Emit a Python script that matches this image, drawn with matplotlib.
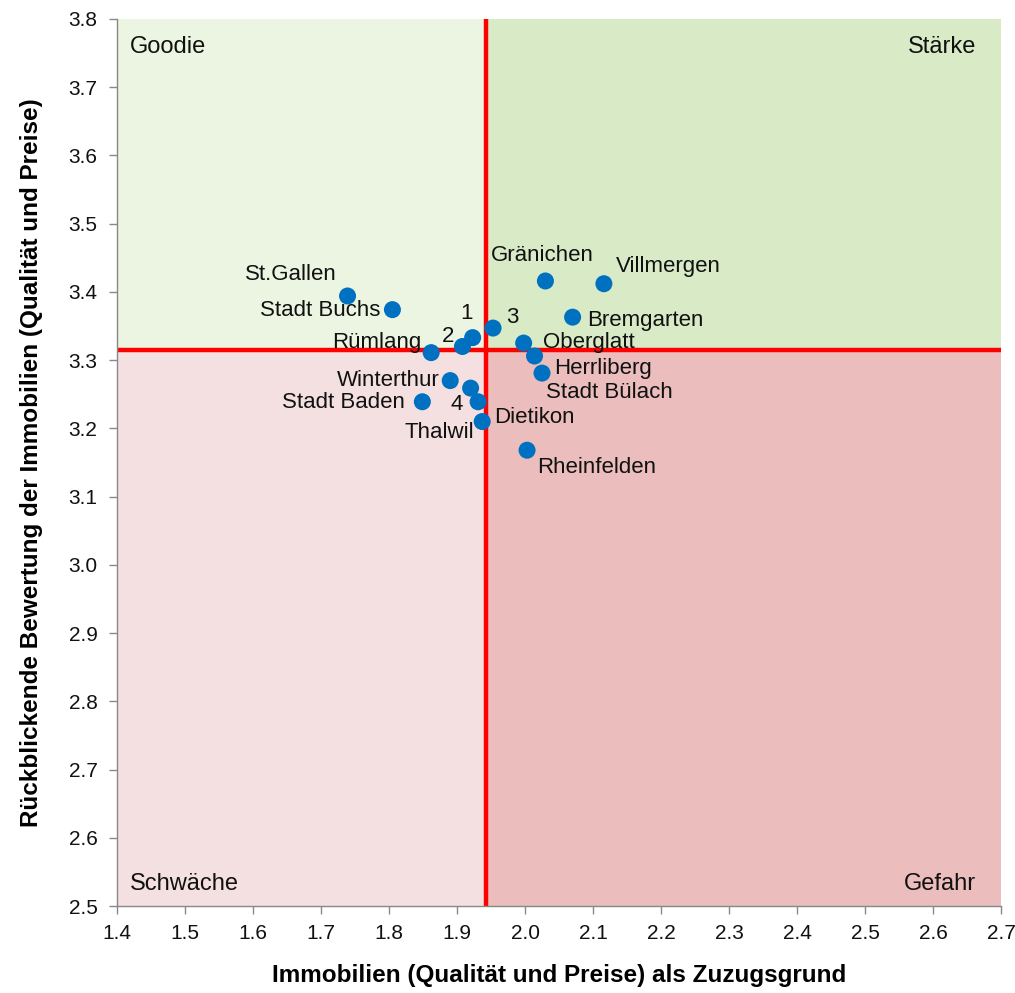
"""Quadrant scatter: real estate as a reason to move vs. retrospective rating."""

import matplotlib.pyplot as plt
from matplotlib.patches import Rectangle

plt.rcParams["font.family"] = ["Liberation Sans", "DejaVu Sans"]

# Municipalities and their scores
places = [
    "St.Gallen", "Stadt Buchs", "Rümlang", "2", "1", "3", "Gränichen",
    "Villmergen", "Bremgarten", "Oberglatt", "Herrliberg", "Stadt Bülach",
    "Winterthur", "Stadt Baden", "Dietikon", "4", "Thalwil", "Rheinfelden",
]
zuzug = [
    1.739, 1.805, 1.862, 1.908, 1.923, 1.953, 2.030,
    2.116, 2.070, 1.998, 2.014, 2.025,
    1.890, 1.849, 1.920, 1.931, 1.937, 2.003,
]
bewertung = [
    3.394, 3.374, 3.311, 3.320, 3.333, 3.347, 3.416,
    3.412, 3.363, 3.325, 3.306, 3.281,
    3.270, 3.239, 3.259, 3.239, 3.210, 3.168,
]

# label offsets in pixels (dx, dy) and horizontal alignment
label_pos = {
    "St.Gallen": (-57, 21, "center"),
    "Stadt Buchs": (-12, -1, "right"),
    "Rümlang": (-10, 10, "right"),
    "2": (-14, 10, "center"),
    "1": (-6, 24, "center"),
    "3": (19, 11, "center"),
    "Gränichen": (-3, 25, "center"),
    "Villmergen": (12, 17, "left"),
    "Bremgarten": (15, -3, "left"),
    "Oberglatt": (19, 1, "left"),
    "Herrliberg": (20, -12, "left"),
    "Stadt Bülach": (4, -19, "left"),
    "Winterthur": (-11, 0, "right"),
    "Stadt Baden": (-17, -1, "right"),
    "Dietikon": (24, -29, "left"),
    "4": (-21, -3, "center"),
    "Thalwil": (-8, -11, "right"),
    "Rheinfelden": (10, -17, "left"),
}

x_split = 1.943
y_split = 3.315
x_min, x_max = 1.4, 2.7
y_min, y_max = 2.5, 3.8

fig = plt.figure(figsize=(10.15, 9.93), dpi=100)
ax = fig.add_axes([0.1153, 0.0876, 0.8709, 0.8933])

# quadrant backgrounds
quadrants = [
    (x_min, y_split, x_split - x_min, y_max - y_split, "#ebf5e1"),
    (x_split, y_split, x_max - x_split, y_max - y_split, "#d8eac6"),
    (x_min, y_min, x_split - x_min, y_split - y_min, "#f5e0e1"),
    (x_split, y_min, x_max - x_split, y_split - y_min, "#ebbdbd"),
]
for x0, y0, w, h, col in quadrants:
    ax.add_patch(Rectangle((x0, y0), w, h, facecolor=col, edgecolor="none", zorder=0))

ax.axvline(x_split, color="#ff0000", lw=3.2, zorder=2)
ax.axhline(y_split, color="#ff0000", lw=3.2, zorder=2)

ax.scatter(zuzug, bewertung, s=150, color="#0070c0", edgecolors="none", zorder=3)

px = 72 / fig.dpi
for name, x, y in zip(places, zuzug, bewertung):
    dx, dy, ha = label_pos[name]
    ax.annotate(name, (x, y), xytext=(dx * px, dy * px), textcoords="offset points",
                ha=ha, va="center", fontsize=16, color="#111111", zorder=4)

quad_kw = dict(transform=ax.transAxes, fontsize=17, color="#111111", va="center")
ax.text(0.015, 0.968, "Goodie", ha="left", **quad_kw)
ax.text(0.972, 0.968, "Stärke", ha="right", **quad_kw)
ax.text(0.015, 0.025, "Schwäche", ha="left", **quad_kw)
ax.text(0.972, 0.025, "Gefahr", ha="right", **quad_kw)

ax.set_xlim(x_min, x_max)
ax.set_ylim(y_min, y_max)
ax.set_xticks([round(1.4 + 0.1 * i, 1) for i in range(14)])
ax.set_yticks([round(2.5 + 0.1 * i, 1) for i in range(14)])
ax.xaxis.set_major_formatter(plt.FormatStrFormatter("%.1f"))
ax.yaxis.set_major_formatter(plt.FormatStrFormatter("%.1f"))
ax.tick_params(axis="both", direction="out", length=6, width=1, color="#888888",
               labelsize=15, labelcolor="#111111")
ax.tick_params(axis="x", pad=7)
ax.tick_params(axis="y", pad=8)

for side in ("top", "right"):
    ax.spines[side].set_visible(False)
for side in ("left", "bottom"):
    ax.spines[side].set_color("#888888")
    ax.spines[side].set_linewidth(1)

ax.set_xlabel("Immobilien (Qualität und Preise) als Zuzugsgrund",
              fontsize=17.5, fontweight="bold", labelpad=15)
ax.set_ylabel("Rückblickende Bewertung der Immobilien (Qualität und Preise)",
              fontsize=17.5, fontweight="bold", labelpad=18)

fig.savefig("out.png", dpi=100)
